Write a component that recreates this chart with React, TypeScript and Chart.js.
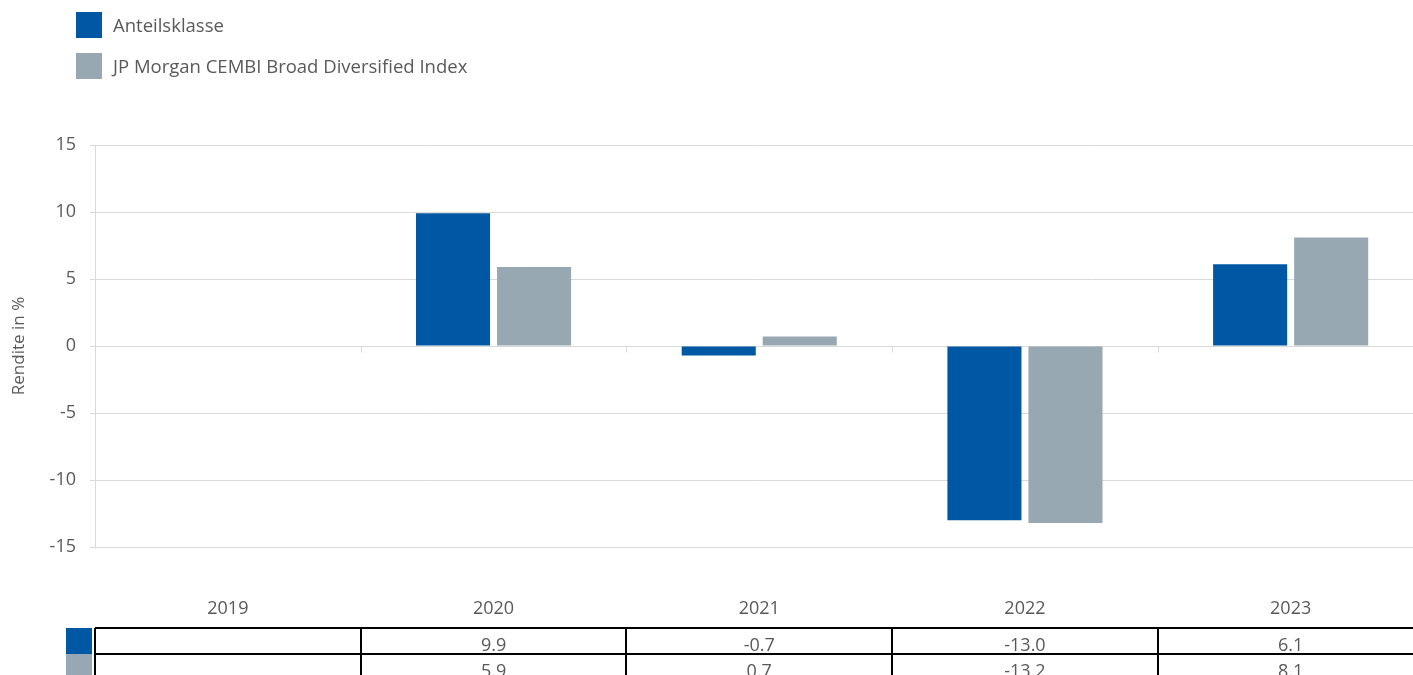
import React, { useEffect, useRef } from "react";
import { Chart, registerables } from "chart.js";

Chart.register(...registerables);

const categories = ["2019", "2020", "2021", "2022", "2023"];
const seriesNames = ["Anteilsklasse", "JP Morgan CEMBI Broad Diversified Index"];
const anteilsklasse: (number | null)[] = [null, 9.9, -0.7, -13.0, 6.1];
const benchmark: (number | null)[] = [null, 5.9, 0.7, -13.2, 8.1];
const yTicks = [-15, -10, -5, 0, 5, 10, 15];
const seriesColors = ["#0058A4", "#97A8B3"];
const yTitle = "Rendite in %";

const FONT = "'Open Sans', sans-serif";
const TEXT = "#595959";
const GRID = "#D9D9D9";

const decorPlugin = {
  id: "decor",
  afterDraw(chart: any) {
    const ctx = chart.ctx as CanvasRenderingContext2D;
    const xs = chart.scales.x;
    const ys = chart.scales.y;
    const area = chart.chartArea;
    const n = categories.length;
    const colW = (area.right - area.left) / n;
    const bounds = Array.from({ length: n + 1 }, (_, i) => area.left + i * colW);
    const y0 = Math.round(ys.getPixelForValue(0)) + 0.5;

    ctx.save();
    // category tick marks on the zero line
    ctx.strokeStyle = GRID;
    ctx.lineWidth = 1;
    for (let i = 1; i < n; i++) {
      const bx = Math.round(bounds[i]) + 0.5;
      ctx.beginPath();
      ctx.moveTo(bx, y0);
      ctx.lineTo(bx, y0 + 6);
      ctx.stroke();
    }

    // legend
    ctx.font = `18.5px ${FONT}`;
    ctx.textBaseline = "middle";
    ctx.textAlign = "left";
    seriesNames.forEach((name, i) => {
      const top = 12 + i * 41;
      ctx.fillStyle = seriesColors[i];
      ctx.fillRect(76, top, 26, 26);
      ctx.fillStyle = TEXT;
      ctx.fillText(name, 113, top + 15);
    });

    // data table
    const rows = [anteilsklasse, benchmark];
    const rowTop = area.bottom + 81;
    const rowH = 26;
    rows.forEach((_, r) => {
      ctx.fillStyle = seriesColors[r];
      ctx.fillRect(66, rowTop + r * rowH, 26, rowH);
    });
    ctx.strokeStyle = "#000";
    ctx.lineWidth = 2;
    for (let r = 0; r <= rows.length; r++) {
      const yy = rowTop + r * rowH;
      ctx.beginPath();
      ctx.moveTo(area.left, yy);
      ctx.lineTo(area.right, yy);
      ctx.stroke();
    }
    bounds.forEach((bx) => {
      ctx.beginPath();
      ctx.moveTo(Math.round(bx), rowTop);
      ctx.lineTo(Math.round(bx), rowTop + rows.length * rowH);
      ctx.stroke();
    });
    ctx.fillStyle = TEXT;
    ctx.textAlign = "center";
    ctx.textBaseline = "alphabetic";
    ctx.font = `18px ${FONT}`;
    rows.forEach((vals, r) => {
      vals.forEach((v, i) => {
        if (v === null || v === undefined) return;
        ctx.fillText(v.toFixed(1), xs.getPixelForValue(i), rowTop + r * rowH + 23);
      });
    });
    ctx.restore();
  },
};

export default function App() {
  const ref = useRef<HTMLCanvasElement | null>(null);

  useEffect(() => {
    if (!ref.current) return;
    const chart = new Chart(ref.current, {
      type: "bar",
      data: {
        labels: categories,
        datasets: [
          {
            label: seriesNames[0],
            data: anteilsklasse,
            backgroundColor: seriesColors[0],
            barPercentage: 0.914,
            categoryPercentage: 0.61,
          },
          {
            label: seriesNames[1],
            data: benchmark,
            backgroundColor: seriesColors[1],
            barPercentage: 0.914,
            categoryPercentage: 0.61,
          },
        ],
      },
      options: {
        responsive: false,
        animation: false,
        layout: { padding: { top: 145, left: 0, right: 16.5, bottom: 0 } },
        plugins: {
          legend: { display: false },
          tooltip: { enabled: false },
        },
        scales: {
          x: {
            grid: { display: false, drawTicks: false },
            border: { display: false },
            ticks: { font: { family: FONT, size: 18 }, color: TEXT, padding: 51 },
            afterFit: (s: any) => {
              s.height = 128;
            },
          },
          y: {
            min: -15,
            max: 15,
            afterBuildTicks: (s: any) => {
              s.ticks = yTicks.map((v) => ({ value: v }));
            },
            ticks: { font: { family: FONT, size: 18 }, color: TEXT, padding: 14 },
            grid: { color: GRID, tickLength: 5, lineWidth: 1 },
            border: { color: GRID },
            title: {
              display: true,
              text: yTitle,
              font: { family: FONT, size: 17 },
              color: TEXT,
              padding: { top: 9, bottom: 0 },
            },
            afterFit: (s: any) => {
              s.width = 95;
            },
          },
        },
      },
      plugins: [decorPlugin],
    });
    return () => chart.destroy();
  }, []);

  return (
    <div
      style={{
        position: "fixed",
        left: 0,
        top: 0,
        width: 1413,
        height: 675,
        overflow: "hidden",
        background: "#fff",
      }}
    >
      <canvas ref={ref} width={1440} height={675} style={{ display: "block", width: 1440, height: 675 }} />
    </div>
  );
}
